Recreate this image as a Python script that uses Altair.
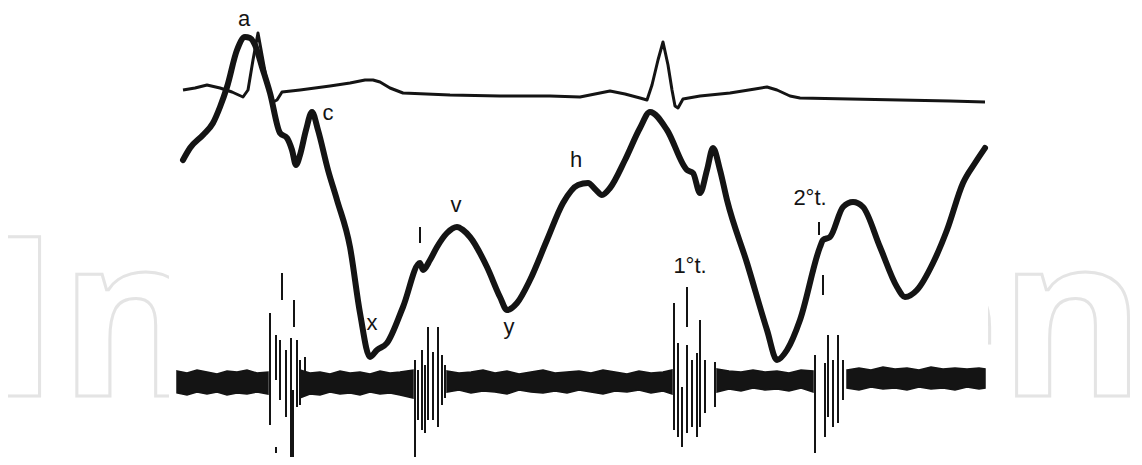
import altair as alt
import pandas as pd

# ---------------- data (time units, amplitude units) ----------------
# ECG trace (thin line, top)
ecg_t = [183, 195, 207, 220, 232, 243, 248, 253, 258, 262, 268, 273, 277, 282, 300, 330, 350, 365,
         373, 380, 390, 403, 450, 500, 550, 580, 595, 610, 625, 640, 647, 652, 658, 663, 668, 672,
         675, 678, 683, 700, 730, 755, 767, 777, 790, 800, 850, 900, 950, 985]
ecg_v = [90, 88, 85, 88, 92, 97, 90, 60, 33, 55, 88, 102, 100, 92, 90, 86, 83, 80,
         80, 82, 88, 93, 95, 96, 96, 97, 94, 91, 94, 98, 100, 85, 60, 42, 65, 90,
         106, 108, 99, 96, 93, 89, 87, 90, 96, 98, 99, 100, 101, 102]

# Jugular venous pulse (thick line)
jvp_t = [183, 190, 203, 213, 220, 227, 237, 245, 250, 255, 262, 270, 280, 287, 292, 296, 300, 306,
         312, 318, 328, 337, 350, 360, 370, 377, 387, 403, 420, 423, 430, 437, 447, 457, 463, 470,
         487, 500, 507, 517, 530, 547, 563, 578, 588, 596, 602, 610, 625, 640, 650, 667, 687, 693,
         700, 707, 713, 720, 727, 747, 767, 777, 787, 800, 820, 823, 830, 843, 853, 863, 880, 897,
         905, 917, 933, 947, 963, 975, 985]
jvp_v = [160, 148, 135, 123, 107, 87, 50, 37, 38, 45, 67, 93, 133, 138, 150, 165, 155, 130,
         112, 130, 170, 200, 247, 313, 357, 350, 343, 307, 263, 270, 260, 247, 233, 227, 230, 237,
         267, 297, 310, 303, 280, 240, 203, 185, 183, 190, 195, 188, 160, 128, 112, 130, 170, 173,
         193, 170, 148, 170, 200, 263, 330, 360, 350, 320, 247, 240, 237, 207, 202, 207, 247, 287,
         297, 290, 263, 230, 183, 163, 148]

# Phonocardiogram: baseline noise band (segments between the sound bursts)
pcg_seg = [1] * 10 + [2] * 12 + [3] * 20 + [4] * 9 + [5] * 13
pcg_t = [177, 187, 197, 207, 217, 227, 237, 247, 257, 268,
         300, 310, 320, 330, 340, 350, 360, 370, 380, 390, 400, 413,
         447, 459, 471, 483, 495, 507, 519, 531, 543, 555, 567, 579, 591, 603, 615, 627, 639, 651, 663, 672,
         717, 729, 741, 753, 765, 777, 789, 801, 813,
         847, 859, 871, 883, 895, 907, 919, 931, 943, 955, 967, 979, 985]
pcg_top = [371, 373, 370, 372, 374, 371, 372, 370, 373, 372,
           370, 373, 372, 374, 371, 373, 372, 374, 371, 373, 372, 370,
           371, 373, 372, 370, 373, 371, 374, 372, 370, 373, 372, 371, 373, 370, 372, 374, 371, 373, 372, 370,
           369, 371, 372, 370, 372, 371, 373, 370, 371,
           370, 368, 370, 367, 369, 368, 370, 367, 369, 368, 369, 368, 369]
pcg_bot = [393, 395, 392, 394, 392, 395, 393, 394, 392, 394,
           398, 394, 395, 392, 394, 393, 395, 392, 394, 393, 395, 398,
           392, 390, 393, 391, 392, 394, 390, 392, 393, 391, 393, 390, 392, 394, 391, 392, 390, 393, 391, 394,
           392, 389, 391, 388, 390, 389, 391, 388, 392,
           388, 390, 387, 389, 388, 390, 387, 389, 388, 390, 387, 389, 388]

# Phonocardiogram sound bursts and marker ticks: (time, top, bottom)
spk_t = [270, 276, 276, 280, 282, 286, 291, 293, 294, 297, 300, 305,
         415, 418, 422, 425, 428, 433, 438, 442, 445,
         674, 678, 682, 687, 687, 692, 697, 700, 705, 715,
         815, 823, 825, 828, 833, 838, 843,
         420, 819]
spk_top = [313, 335, 447, 340, 273, 350, 338, 390, 300, 340, 360, 357,
           360, 370, 350, 365, 327, 352, 327, 355, 365,
           303, 343, 387, 287, 345, 360, 353, 320, 360, 362,
           355, 275, 363, 335, 360, 335, 360,
           227, 222]
spk_bot = [425, 380, 453, 400, 300, 417, 457, 462, 327, 407, 405, 372,
           457, 420, 430, 433, 420, 420, 427, 405, 398,
           430, 437, 447, 327, 433, 427, 437, 427, 413, 407,
           453, 295, 437, 417, 427, 423, 400,
           243, 235]

# Wave labels
lab_text = ["a", "c", "x", "v", "y", "h", "1°t.", "2°t."]
lab_t = [244, 328, 372, 456, 509, 576, 690, 810]
lab_v = [26, 120, 330, 212, 334, 167, 273, 205]

# Watermark
wm_text = ["In", "en"]
wm_t = [-14, 868]
wm_v = [396, 396]

# ---------------- chart ----------------
INK = "#141414"
XS = alt.Scale(domain=[8, 1134])
YS = alt.Scale(domain=[8, 457], reverse=True)

ecg = pd.DataFrame({"t": ecg_t, "v": ecg_v})
jvp = pd.DataFrame({"t": jvp_t, "v": jvp_v})
pcg = pd.DataFrame({"t": pcg_t, "top": pcg_top, "bot": pcg_bot, "seg": pcg_seg})
spk = pd.DataFrame({"t": spk_t, "top": spk_top, "bot": spk_bot})
labs = pd.DataFrame({"t": lab_t, "v": lab_v, "txt": lab_text})
wm = pd.DataFrame({"t": wm_t, "v": wm_v, "txt": wm_text})
paper = pd.DataFrame({"x0": [min(pcg_t) - 8], "x1": [max(pcg_t) + 3]})

watermark = alt.Chart(wm).mark_text(
    align="left", baseline="alphabetic", font="Open Sans", fontSize=222, fontWeight="bold",
    fill="#ffffff", stroke="#e4e4e4", strokeWidth=3
).encode(x=alt.X("t:Q", scale=XS, axis=None), y=alt.Y("v:Q", scale=YS, axis=None), text="txt:N")

paper_rect = alt.Chart(paper).mark_rect(color="#ffffff").encode(
    x=alt.X("x0:Q", scale=XS, axis=None), x2="x1:Q", y=alt.value(0), y2=alt.value(449)
)

band = alt.Chart(pcg).mark_area(color=INK, stroke=INK, strokeWidth=1.5).encode(
    x=alt.X("t:Q", scale=XS, axis=None),
    y=alt.Y("top:Q", scale=YS, axis=None), y2="bot:Q", detail="seg:N"
)

spikes = alt.Chart(spk).mark_rule(color=INK, strokeWidth=2).encode(
    x=alt.X("t:Q", scale=XS, axis=None),
    y=alt.Y("top:Q", scale=YS, axis=None), y2="bot:Q"
)

ecg_line = alt.Chart(ecg).mark_line(color=INK, strokeWidth=3, strokeJoin="round").encode(
    x=alt.X("t:Q", scale=XS, axis=None), y=alt.Y("v:Q", scale=YS, axis=None)
)

jvp_line = alt.Chart(jvp).mark_line(
    color=INK, strokeWidth=6, strokeJoin="round", strokeCap="round", interpolate="monotone"
).encode(x=alt.X("t:Q", scale=XS, axis=None), y=alt.Y("v:Q", scale=YS, axis=None))

labels = alt.Chart(labs).mark_text(
    align="center", baseline="alphabetic", font="Liberation Sans", fontSize=22, color=INK
).encode(x=alt.X("t:Q", scale=XS, axis=None), y=alt.Y("v:Q", scale=YS, axis=None), text="txt:N")

chart = alt.layer(watermark, paper_rect, band, spikes, ecg_line, jvp_line, labels).properties(
    width=1126, height=449, padding=0,
    autosize=alt.AutoSizeParams(type="none"),
    background="#ffffff"
).configure_view(stroke=None)

chart.save("out.html", embed_options={"renderer": "svg", "actions": False})
